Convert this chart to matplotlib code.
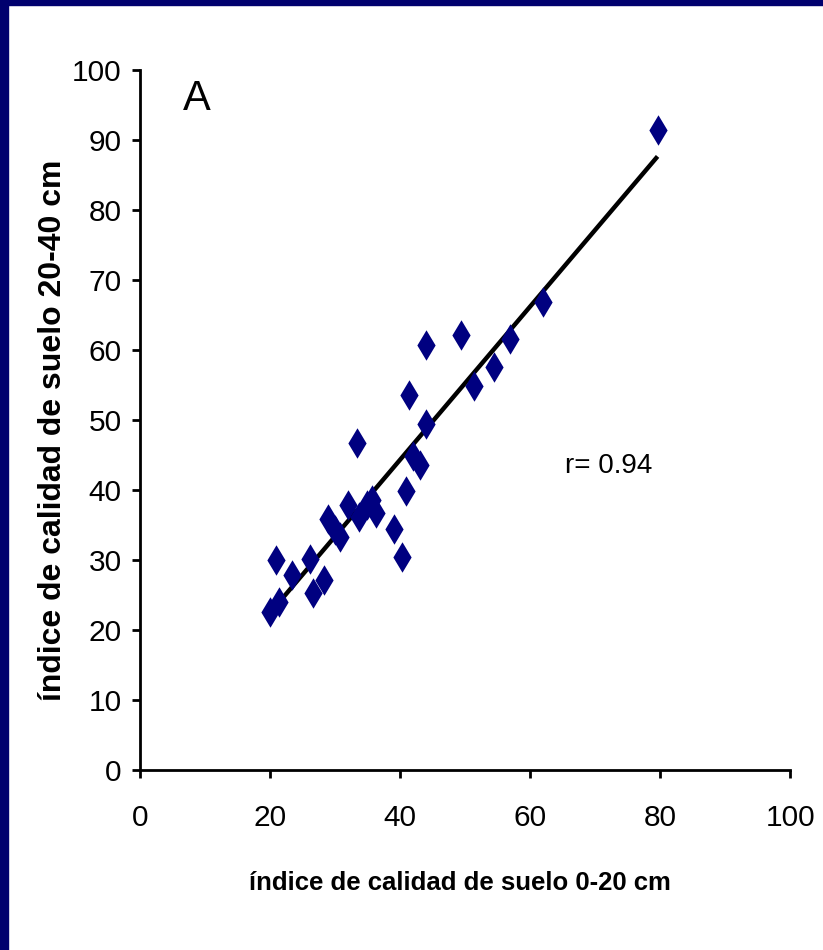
import numpy as np
import matplotlib
matplotlib.use("Agg")
import matplotlib.pyplot as plt
from matplotlib.patches import Rectangle

plt.rcParams["font.family"] = ["Liberation Sans", "DejaVu Sans"]

# indice de calidad de suelo, 0-20 cm vs 20-40 cm
ics_0_20 = [20.0, 21.4, 20.8, 23.4, 26.1, 26.6, 28.2, 28.9, 29.9, 30.7,
            31.9, 33.7, 33.3, 34.8, 35.7, 36.3, 39.1, 40.2, 40.8, 41.4,
            42.0, 43.1, 43.9, 43.9, 49.3, 51.4, 54.4, 56.9, 61.9, 79.6]
ics_20_40 = [22.6, 24.0, 30.0, 27.9, 30.2, 25.3, 27.2, 35.9, 34.3, 33.3,
             37.8, 36.2, 46.7, 37.9, 38.5, 36.7, 34.4, 30.4, 39.9, 53.5,
             44.9, 43.6, 49.4, 60.7, 62.1, 54.9, 57.6, 61.5, 66.9, 91.5]
r_value = 0.94

x = np.array(ics_0_20)
y = np.array(ics_20_40)
slope, intercept = np.polyfit(x, y, 1)
xfit = np.array([x.min(), x.max()])

fig = plt.figure(figsize=(8.23, 9.5), dpi=100)
fig.patch.set_facecolor("white")
ax = fig.add_axes([0.1707, 0.1895, 0.7893, 0.7368])

ax.plot(xfit, slope * xfit + intercept, color="black", lw=3.2, zorder=2,
        solid_capstyle="butt")
ax.scatter(x, y, marker="d", s=15.5 ** 2, color="#000080", linewidths=0,
           zorder=3)

ax.set_xlim(0, 100)
ax.set_ylim(0, 100)
ax.set_xticks(np.arange(0, 101, 20))
ax.set_yticks(np.arange(0, 101, 10))
ax.spines["top"].set_visible(False)
ax.spines["right"].set_visible(False)
for s in ("left", "bottom"):
    ax.spines[s].set_linewidth(2)

ax.tick_params(direction="out", length=5.5, width=2, labelsize=21.5, pad=8)
ax.tick_params(axis="x", pad=19)

ax.set_xlabel("índice de calidad de suelo 0-20 cm", fontsize=18.5,
              fontweight="bold")
ax.set_ylabel("índice de calidad de suelo 20-40 cm", fontsize=23,
              fontweight="bold")
ax.xaxis.set_label_coords(0.492, -0.145)
ax.yaxis.set_label_coords(-0.1115, 0.485)

ax.text(6.5, 94.3, "A", fontsize=30)
ax.text(65.3, 42.4, f"r= {r_value}", fontsize=20)

# navy frame along the top and left edges
fig.patches.append(Rectangle((0, 0), 8 / 823, 1, transform=fig.transFigure,
                             color="#00006e", zorder=10))
fig.patches.append(Rectangle((0, 1 - 5 / 950), 1, 5 / 950,
                             transform=fig.transFigure, color="#00006e", zorder=10))

fig.savefig("out.png", dpi=100)
